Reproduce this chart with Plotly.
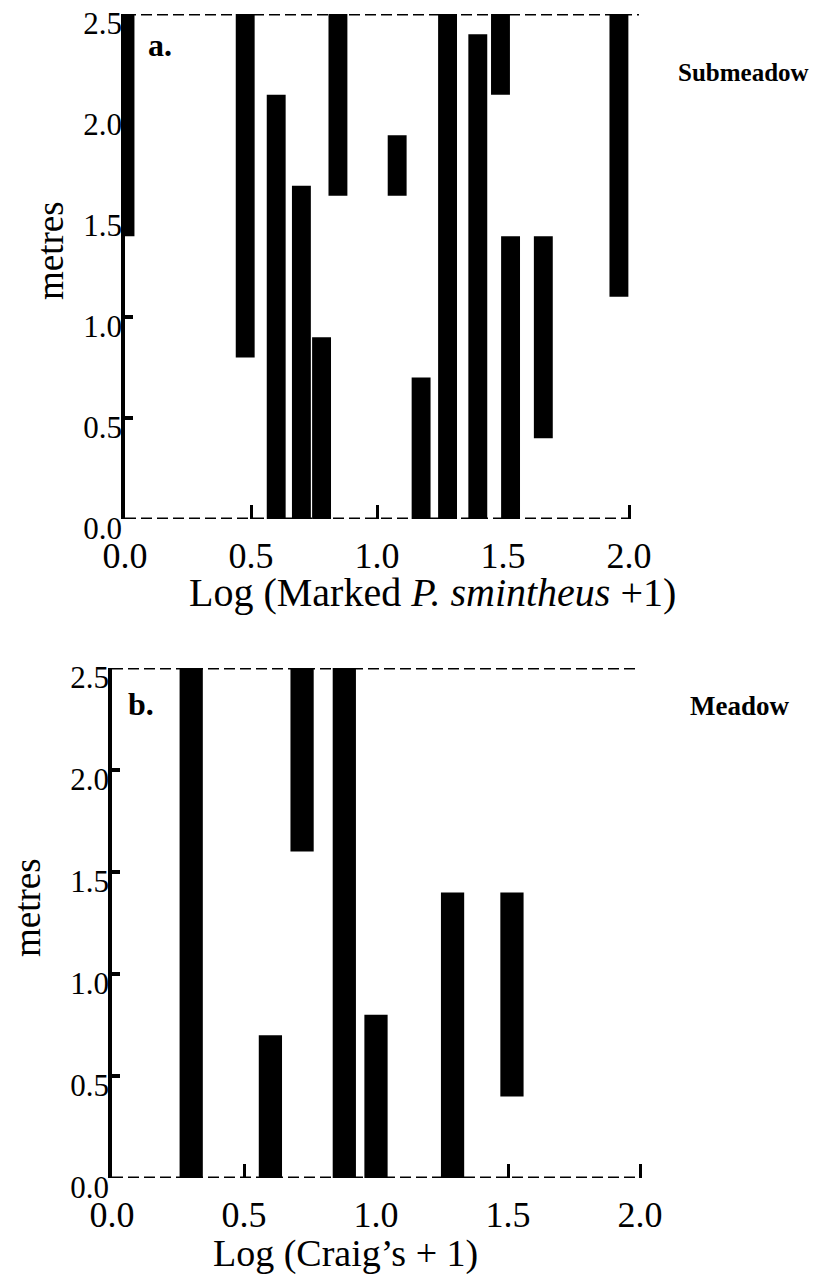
import plotly.graph_objects as go

# ---- data: panel a (Submeadow) ----
a_x = [0.0, 0.477, 0.60, 0.70, 0.78, 0.845, 1.08, 1.175, 1.28, 1.40, 1.49, 1.53, 1.66, 1.96]
a_low = [1.4, 0.8, 0.0, 0.0, 0.0, 1.6, 1.6, 0.0, 0.0, 0.0, 2.1, 0.0, 0.4, 1.1]
a_high = [2.5, 2.5, 2.1, 1.65, 0.9, 2.5, 1.9, 0.7, 2.5, 2.4, 2.5, 1.4, 1.4, 2.5]

# ---- data: panel b (Meadow) ----
b_x = [0.30, 0.60, 0.72, 0.88, 1.0, 1.29, 1.515]
b_low = [0.0, 0.0, 1.6, 0.0, 0.0, 0.0, 0.4]
b_high = [2.5, 0.7, 2.5, 2.5, 0.8, 1.4, 1.4]

x_ticks = [0.0, 0.5, 1.0, 1.5, 2.0]
x_ticktext = ["0.0", "0.5", "1.0", "1.5", "2.0"]
y_ticks = [0.0, 0.5, 1.0, 1.5, 2.0, 2.5]
y_ticktext = ["0.0", "0.5", "1.0", "1.5", "2.0", "2.5"]

FONT = "Liberation Serif, Times New Roman, serif"
# the page has an 8px body margin; size the figure to fit inside the window
OFF = 8
W, H = 820 - 2 * OFF, 1282 - 2 * OFF

def fx(px):
    return (px - OFF) / W

def fy(py):
    return 1 - (py - OFF) / H

fig = go.Figure()

def add_panel(xs, lows, highs, width, xa, ya, xmax):
    fig.add_trace(go.Bar(
        x=xs, y=[h - l for h, l in zip(highs, lows)], base=lows, width=width,
        marker=dict(color="black", line=dict(width=0)),
        xaxis=xa, yaxis=ya, showlegend=False, hoverinfo="skip"))
    # dashed frame lines (top at 2.5, baseline at 0)
    fig.add_trace(go.Scatter(x=[0, xmax], y=[2.5, 2.5], mode="lines",
                             line=dict(color="black", width=3, dash="11px,5px"),
                             cliponaxis=False, xaxis=xa, yaxis=ya,
                             showlegend=False, hoverinfo="skip"))
    fig.add_trace(go.Scatter(x=[0, 2.0], y=[0, 0], mode="lines",
                             line=dict(color="black", width=3, dash="11px,5px"),
                             cliponaxis=False, xaxis=xa, yaxis=ya,
                             showlegend=False, hoverinfo="skip"))

add_panel(a_x, a_low, a_high, 0.075, "x", "y", 2.04)
add_panel(b_x, b_low, b_high, 0.088, "x2", "y2", 2.0)

xcommon = dict(tickmode="array", tickvals=x_ticks, ticktext=x_ticktext,
               ticks="inside", ticklen=14, tickwidth=2.5, tickcolor="black",
               showline=False, showgrid=False, zeroline=False, automargin=False,
               tickfont=dict(family=FONT, size=36, color="black"),
               ticklabelstandoff=12, ticklabeloverflow="allow")
ycommon = dict(tickmode="array", tickvals=y_ticks, ticktext=y_ticktext,
               ticks="inside", ticklen=8, tickwidth=3.5, tickcolor="black",
               showline=True, linewidth=3.5, linecolor="black", automargin=False,
               showgrid=False, zeroline=False, range=[0, 2.5],
               tickfont=dict(family=FONT, size=31, color="black"),
               ticklabelstandoff=-7, ticklabelshift=9, ticklabeloverflow="allow")

fig.update_layout(
    width=W, height=H, margin=dict(l=0, r=0, t=0, b=0, pad=0, autoexpand=False),
    plot_bgcolor="white", paper_bgcolor="white", barmode="overlay", showlegend=False,
    xaxis=dict(domain=[fx(125), fx(125 + 2.04 * 252)], range=[0, 2.04], anchor="y", **xcommon),
    yaxis=dict(domain=[fy(519), fy(14)], anchor="x", **ycommon),
    xaxis2=dict(domain=[fx(112), fx(112 + 2.03 * 264)], range=[0, 2.03], anchor="y2", **xcommon),
    yaxis2=dict(domain=[fy(1178), fy(668)], anchor="x2", **ycommon),
)

def ann(text, px, py, size, bold=False, rot=0):
    fig.add_annotation(text=("<b>%s</b>" % text) if bold else text,
                       x=fx(px), y=fy(py), xref="paper", yref="paper",
                       xanchor="center", yanchor="middle", showarrow=False,
                       textangle=rot, font=dict(family=FONT, size=size, color="black"))

ann("a.", 160, 45, 32, bold=True)
ann("b.", 141, 704, 32, bold=True)
ann("Submeadow", 743, 72, 25, bold=True)
ann("Meadow", 739, 706, 27, bold=True)
ann("metres", 50, 251, 37, rot=-90)
ann("metres", 27, 908, 37, rot=-90)
ann("Log (Marked <i>P. smintheus</i> +1)", 433, 592, 40)
ann("Log (Craig\u2019s + 1)", 345, 1253, 38)

fig.write_html("out.html")
